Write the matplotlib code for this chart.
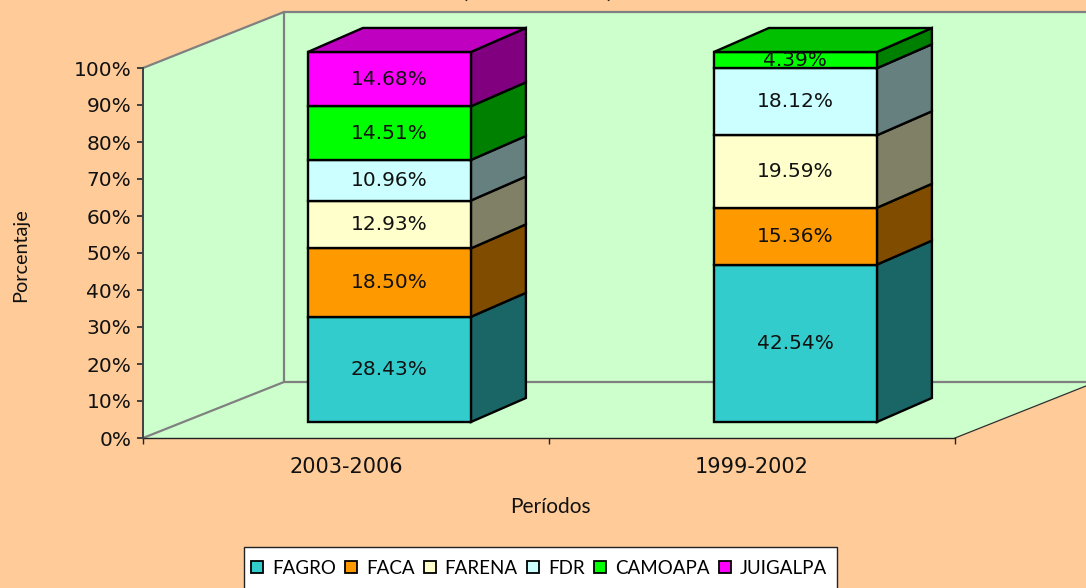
import matplotlib
matplotlib.use('Agg')
from matplotlib import pyplot as plt
from matplotlib.patches import Polygon, Rectangle

periods = ['2003-2006', '1999-2002']
series = ['FAGRO', 'FACA', 'FARENA', 'FDR', 'CAMOAPA', 'JUIGALPA']
values = [
    [28.43, 42.54],
    [18.50, 15.36],
    [12.93, 19.59],
    [10.96, 18.12],
    [14.51, 4.39],
    [14.68, 0],
]
y_ticks = [0, 10, 20, 30, 40, 50, 60, 70, 80, 90, 100]

face = ['#33CCCC', '#FF9900', '#FFFFCC', '#CCFFFF', '#00FF00', '#FF00FF']
side = ['#1A6666', '#804C00', '#808066', '#668080', '#008000', '#800080']
top = ['#29A3A3', '#CC7A00', '#CCCCA3', '#A3CCCC', '#00C000', '#C000C0']

W, H = 1086, 588
plt.rcParams['font.family'] = ['Lato', 'DejaVu Sans']
num_font = 'DejaVu Sans'

fig = plt.figure(figsize=(W / 100, H / 100), dpi=100, facecolor='#FFCC99')
ax = fig.add_axes([143 / W, 1 - 438 / H, 812 / W, 370 / H])
ax.set_xlim(0, 2)
ax.set_ylim(0, 100)
ax.set_facecolor('none')

# px to data, the fake 3d depth
ux = 406.0
uy = 3.7
wall_dx, wall_dy = 141 / ux, 56 / uy
bar_dx, bar_dy = 55 / ux, 24 / uy
front_dx, front_dy = 43.4 / ux, 16 / uy
bar_w = 163 / ux


def poly(pts, fc, ec='none', lw=0, z=1):
    ax.add_patch(Polygon(pts, closed=True, facecolor=fc, edgecolor=ec,
                         linewidth=lw, clip_on=False, zorder=z, joinstyle='miter'))


# walls and floor
poly([(0, 0), (wall_dx, wall_dy), (wall_dx, 100 + wall_dy), (0, 100)], '#CCFFCC', z=1)
poly([(wall_dx, wall_dy), (2 + wall_dx, wall_dy), (2 + wall_dx, 100 + wall_dy),
      (wall_dx, 100 + wall_dy)], '#CCFFCC', z=1)
poly([(0, 0), (2, 0), (2 + wall_dx, wall_dy), (wall_dx, wall_dy)], '#CCFFCC', z=1)

gray = '#808080'
ax.plot([0, wall_dx, wall_dx, 2 + wall_dx], [100, 100 + wall_dy, wall_dy, wall_dy],
        color=gray, lw=1.6, clip_on=False, zorder=2)
ax.plot([wall_dx, 2 + wall_dx], [100 + wall_dy, 100 + wall_dy], color=gray, lw=1.6,
        clip_on=False, zorder=2)
ax.plot([wall_dx, 0], [wall_dy, 0], color=gray, lw=1.6, clip_on=False, zorder=2)
ax.plot([2, 2 + wall_dx], [0, wall_dy], color='#303030', lw=0.9, clip_on=False, zorder=2)

# stacked bars
for i in range(len(periods)):
    x0 = i + 0.5 + front_dx - bar_w / 2
    x1 = x0 + bar_w
    base = 0
    last = 0
    for s in range(len(series)):
        v = values[s][i]
        if v == 0:
            continue
        y0 = base + front_dy
        y1 = y0 + v
        poly([(x1, y0), (x1 + bar_dx, y0 + bar_dy), (x1 + bar_dx, y1 + bar_dy), (x1, y1)],
             side[s], 'black', 1.7, 3)
        poly([(x0, y0), (x1, y0), (x1, y1), (x0, y1)], face[s], 'black', 1.7, 3)
        ax.text((x0 + x1) / 2, (y0 + y1) / 2, '%.2f%%' % v, ha='center', va='center',
                fontsize=14.5, family=num_font, color='#111111', zorder=5, clip_on=False)
        base += v
        last = s
    y1 = base + front_dy
    poly([(x0, y1), (x1, y1), (x1 + bar_dx, y1 + bar_dy), (x0 + bar_dx, y1 + bar_dy)],
         top[last], 'black', 1.7, 3)

ax.set_xticks([0, 1, 2])
ax.set_xticklabels([])
ax.set_xticks([0.5, 1.5], minor=True)
ax.set_xticklabels(periods, minor=True, fontsize=15, family=num_font, color='#111111')
ax.tick_params(axis='x', which='major', length=4.5, width=1, color='#222222')
ax.tick_params(axis='x', which='minor', length=0, pad=14)
ax.set_yticks(y_ticks)
ax.set_yticklabels(['%d%%' % t for t in y_ticks], fontsize=14.5, family=num_font, color='#111111')
ax.tick_params(axis='y', length=4.5, width=1.4, color='#404040', pad=4)

for name in ['top', 'right']:
    ax.spines[name].set_visible(False)
ax.spines['left'].set_color('#404040')
ax.spines['left'].set_linewidth(1.4)
ax.spines['bottom'].set_color('#222222')
ax.spines['bottom'].set_linewidth(1)
ax.spines['left'].set_zorder(4)

fig.text(21 / W, 1 - 255 / H, 'Porcentaje', rotation=90, ha='center', va='center',
         fontsize=14.3, color='#111111')
fig.text(550 / W, 1 - 507 / H, 'Períodos', ha='center', va='center',
         fontsize=15, color='#111111')
# title is cut by the top edge of the picture, only the bracket ends show
fig.text(537.5 / W, 1 + 3 / H, '(1999-2006)', ha='center', va='baseline',
         fontsize=20, color='#111111')

# legend box runs off the bottom edge
fig.add_artist(Rectangle((244 / W, -3 / H), 593 / W, (H - 547 + 3) / H, transform=fig.transFigure,
                         facecolor='white', edgecolor='#222222', linewidth=1, zorder=1))
handles = [plt.Rectangle((0, 0), 1, 1, facecolor=face[s], edgecolor='black', linewidth=1.3)
           for s in range(len(series))]
leg = fig.legend(handles, series, ncol=6, loc='center', bbox_to_anchor=(539 / W, 1 - 568 / H),
                 fontsize=13.5, frameon=False, handlelength=0.62, handleheight=0.62,
                 handletextpad=0.48, columnspacing=0.51, borderpad=0, borderaxespad=0)
leg.set_zorder(2)

fig.savefig('out.png', dpi=100, facecolor=fig.get_facecolor())
